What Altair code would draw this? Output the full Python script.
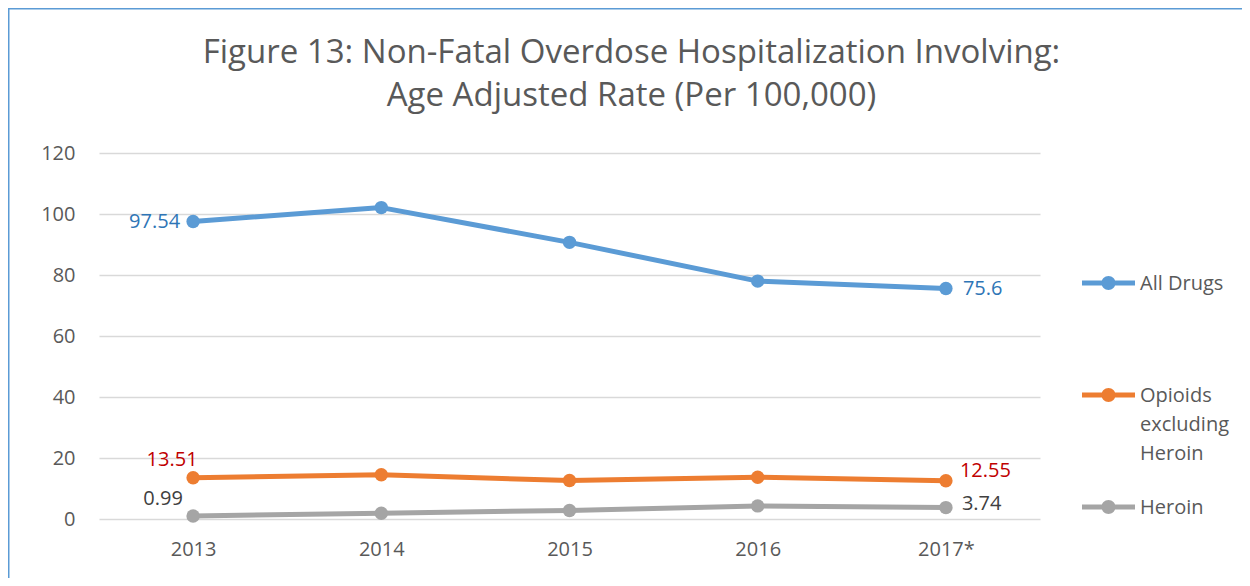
import altair as alt
import pandas as pd

years = ["2013", "2014", "2015", "2016", "2017*"]
series = ["All Drugs", "Opioids excluding Heroin", "Heroin"]
all_drugs = [97.54, 102.1, 90.7, 78.0, 75.6]
opioids = [13.51, 14.5, 12.6, 13.7, 12.55]
heroin = [0.99, 1.9, 2.8, 4.3, 3.74]
line_colors = ["#5B9BD5", "#ED7D31", "#A5A5A5"]
label_colors = ["#2E75B6", "#C00000", "#404040"]
y_ticks = [0, 20, 40, 60, 80, 100, 120]

rows = []
for s, vals in zip(series, [all_drugs, opioids, heroin]):
    for yr, v in zip(years, vals):
        rows.append({"series": s, "year": yr, "value": v, "label": f"{v:g}"})
df = pd.DataFrame(rows)

W, H = 941, 366
FONT = "Open Sans"
TXT = "#595959"
LEG_DY = 7

x_enc = alt.X("year:N", sort=years, title=None,
              scale=alt.Scale(type="point", padding=0.5),
              axis=alt.Axis(labelFont=FONT, labelFontSize=20, labelColor=TXT,
                            labelAngle=0, domain=False, ticks=False, grid=False,
                            labelPadding=20 - LEG_DY))
y_enc = alt.Y("value:Q", title=None,
              scale=alt.Scale(domain=[0, 120], nice=False, zero=True),
              axis=alt.Axis(values=y_ticks, labelFont=FONT, labelFontSize=20,
                            labelColor=TXT, domain=False, ticks=False,
                            gridColor="#D9D9D9", gridWidth=1.5, labelPadding=24,
                            labelOffset=-LEG_DY))

base = alt.Chart(df)

lines = base.mark_line(strokeWidth=5, strokeCap="round", strokeJoin="round").encode(
    x=x_enc, y=y_enc,
    stroke=alt.Stroke("series:N", sort=series,
                      scale=alt.Scale(domain=series, range=line_colors), legend=None),
    detail="series:N",
)

sym_path = ("M-1,-0.094L1,-0.094L1,0.094L-1,0.094Z"
            "M0.264,0A0.264,0.264,0,1,1,-0.264,0A0.264,0.264,0,1,1,0.264,0Z")

label_expr = ("datum.label == 'Opioids excluding Heroin' ? "
              "['Opioids', 'excluding', 'Heroin'] : "
              "[datum.label, '\u00a0', '\u00a0']")

points = base.mark_point(filled=True, size=180, opacity=1).encode(
    x=x_enc, y=y_enc,
    fill=alt.Fill("series:N", sort=series,
                  scale=alt.Scale(domain=series, range=line_colors),
                  legend=alt.Legend(
                      title=None, orient="none", legendX=983, legendY=103.5,
                      symbolType=sym_path, symbolSize=2809, symbolStrokeWidth=0,
                      symbolOpacity=1, labelFont=FONT, labelFontSize=20,
                      labelColor=TXT, labelOffset=5, labelLimit=300,
                      rowPadding=16, padding=0, labelBaseline="alphabetic",
                      labelExpr=label_expr,
                  )),
)

label_specs = [
    ("All Drugs", "2013", "right", -13, 0),
    ("All Drugs", "2017*", "left", 17, 1),
    ("Opioids excluding Heroin", "2013", "center", -21, -18),
    ("Opioids excluding Heroin", "2017*", "left", 14, -10),
    ("Heroin", "2013", "center", -30, -17),
    ("Heroin", "2017*", "left", 16, -4),
]
texts = []
for s, yr, al, dx, dy in label_specs:
    col = label_colors[series.index(s)]
    t = base.transform_filter(
        (alt.datum.series == s) & (alt.datum.year == yr)
    ).mark_text(font=FONT, fontSize=20, color=col, align=al, baseline="middle",
                dx=dx, dy=dy).encode(x=x_enc, y=y_enc, text="label:N")
    texts.append(t)

border = alt.Chart(alt.Data(values=[{"a": 1}])).mark_rect(
    fill=None, stroke="#5B9BD5", strokeWidth=1.5
).encode(x=alt.value(-90.25), x2=alt.value(1400), y=alt.value(-144.25), y2=alt.value(700))

chart = alt.layer(border, lines, points, *texts).resolve_scale(
    fill="independent", stroke="independent"
).properties(
    width=W, height=H,
    title=alt.TitleParams(
        ["Figure 13: Non-Fatal Overdose Hospitalization Involving:",
         "Age Adjusted Rate (Per 100,000)"],
        font=FONT, fontSize=33, fontWeight="normal", color=TXT,
        anchor="middle", lineHeight=43, offset=-105, dx=62),
    autosize=alt.AutoSizeParams(type="none"),
    padding={"left": 91, "top": 145, "right": 202, "bottom": 59},
    background="white",
).configure(style={"guide-label": {"lineHeight": 29, "dy": LEG_DY}}).configure_view(stroke=None)

chart.save("out.html", embed_options={"renderer": "svg", "actions": False})
